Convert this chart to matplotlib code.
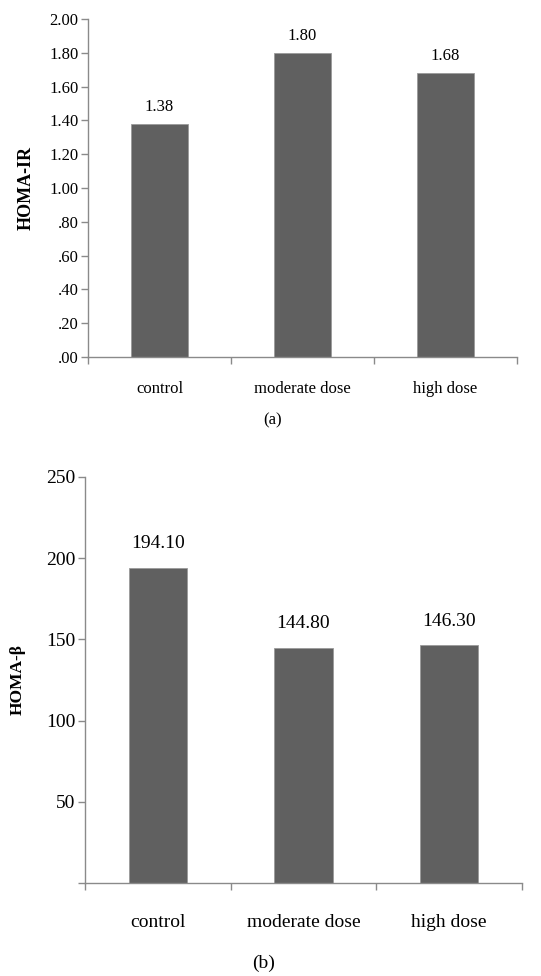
import matplotlib
matplotlib.use("Agg")
from matplotlib import pyplot as plt
from matplotlib.ticker import FixedLocator

# data
groups = ["control", "moderate dose", "high dose"]
homa_ir = [1.38, 1.80, 1.68]
homa_ir_labels = ["1.38", "1.80", "1.68"]
homa_b = [194.10, 144.80, 146.30]
homa_b_labels = ["194.10", "144.80", "146.30"]

ir_ticks = [0, 0.2, 0.4, 0.6, 0.8, 1.0, 1.2, 1.4, 1.6, 1.8, 2.0]
ir_ticklabels = [".00", ".20", ".40", ".60", ".80", "1.00", "1.20", "1.40", "1.60", "1.80", "2.00"]
b_ticks = [0, 50, 100, 150, 200, 250]
b_ticklabels = ["", "50", "100", "150", "200", "250"]

plt.rcParams["font.family"] = ["Liberation Serif", "DejaVu Serif"]
bar_color = "#606060"
axis_color = "#8a8a8a"

fig = plt.figure(figsize=(5.41, 9.76), dpi=100)


def draw_panel(ax, values, labels, ticks, ticklabels, ylabel, fs, lab_off, xpad, ylab_fs, ylab_x):
    x = list(range(len(values)))
    ax.bar(x, values, width=0.4, color=bar_color, edgecolor="#9a9a9a", linewidth=0.6)
    for xi, v, t in zip(x, values, labels):
        ax.annotate(t, (xi, v), xytext=(0, lab_off), textcoords="offset points",
                    ha="center", va="baseline", fontsize=fs)
    ax.set_xlim(-0.5, len(values) - 0.5)
    ax.set_ylim(ticks[0], ticks[-1])
    ax.set_yticks(ticks)
    ax.set_yticklabels(ticklabels, fontsize=fs)
    ax.set_xticks(x)
    ax.set_xticklabels(groups, fontsize=fs)
    ax.xaxis.set_minor_locator(FixedLocator([i - 0.5 for i in range(len(values) + 1)]))
    ax.tick_params(axis="x", which="major", length=0, pad=xpad)
    ax.tick_params(axis="x", which="minor", length=5, color=axis_color, width=1)
    ax.tick_params(axis="y", length=5, color=axis_color, width=1, pad=2)
    for s in ["top", "right"]:
        ax.spines[s].set_visible(False)
    for s in ["left", "bottom"]:
        ax.spines[s].set_color(axis_color)
        ax.spines[s].set_linewidth(1)
    ax.set_ylabel(ylabel, fontsize=ylab_fs, fontweight="bold")
    ax.yaxis.set_label_coords(ylab_x, 0.5)


ax1 = fig.add_axes([0.1627, 0.6342, 0.7929, 0.3463])
draw_panel(ax1, homa_ir, homa_ir_labels, ir_ticks, ir_ticklabels, "HOMA-IR", 12, 9.5, 17, 13, -0.125)

ax2 = fig.add_axes([0.157, 0.0953, 0.808, 0.416])
draw_panel(ax2, homa_b, homa_b_labels, b_ticks, b_ticklabels, "HOMA-β", 14, 14, 22, 12.5, -0.135)

fig.text(273 / 541, 1 - 420 / 976, "(a)", ha="center", va="center", fontsize=12)
fig.text(264 / 541, 1 - 963 / 976, "(b)", ha="center", va="center", fontsize=14)

fig.savefig("out.png", dpi=100)
